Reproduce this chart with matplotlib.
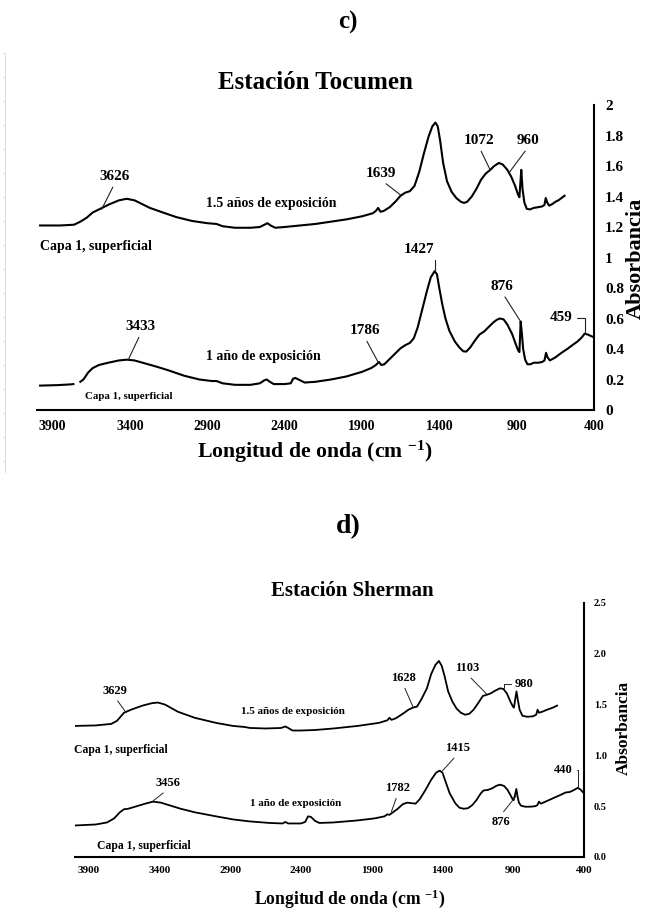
import numpy as np
import matplotlib
matplotlib.use("Agg")
import matplotlib.pyplot as plt
from matplotlib.lines import Line2D

plt.rcParams["font.family"] = ["Liberation Serif", "DejaVu Serif"]
plt.rcParams["font.weight"] = "bold"
plt.rcParams["mathtext.fontset"] = "custom"
plt.rcParams["mathtext.rm"] = "Liberation Serif:bold"
plt.rcParams["mathtext.bf"] = "Liberation Serif:bold"
plt.rcParams["mathtext.default"] = "rm"
plt.rcParams["axes.unicode_minus"] = False

NAN = np.nan

# ---- c) Estación Tocumen ----
c_w15 = [3980, 3850, 3760, 3720, 3680, 3640, 3590, 3530, 3470, 3420, 3370, 3320, 3270, 3200,
         3100, 3000, 2900, 2840, 2800, 2720, 2620, 2560, 2530, 2510, 2490, 2460, 2400, 2300,
         2200, 2100, 2000, 1900, 1830, 1810, 1795, 1780, 1760, 1720, 1680, 1650, 1620, 1590,
         1560, 1530, 1500, 1470, 1445, 1425, 1410, 1395, 1375, 1350, 1320, 1290, 1260, 1240,
         1220, 1190, 1160, 1130, 1100, 1070, 1045, 1015, 990, 960, 935, 910, 890, 882, 875,
         870, 862, 850, 835, 815, 790, 760, 735, 720, 712, 702, 690, 670, 650, 630, 610, 590]
c_a15 = [1.21, 1.21, 1.215, 1.235, 1.26, 1.295, 1.32, 1.35, 1.375, 1.385, 1.375, 1.35, 1.325, 1.30,
         1.265, 1.24, 1.225, 1.22, 1.205, 1.195, 1.195, 1.20, 1.215, 1.225, 1.21, 1.195, 1.20, 1.21,
         1.22, 1.235, 1.25, 1.27, 1.29, 1.305, 1.325, 1.30, 1.305, 1.33, 1.37, 1.405, 1.425, 1.435,
         1.47, 1.56, 1.68, 1.79, 1.86, 1.885, 1.86, 1.77, 1.62, 1.50, 1.43, 1.39, 1.365, 1.358,
         1.365, 1.40, 1.45, 1.51, 1.55, 1.575, 1.60, 1.62, 1.61, 1.575, 1.53, 1.47, 1.41, 1.395, 1.50,
         1.575, 1.45, 1.36, 1.32, 1.315, 1.325, 1.33, 1.335, 1.345, 1.39, 1.36, 1.34, 1.35, 1.365,
         1.375, 1.39, 1.405]

c_w1 = [3980, 3870, 3780, 3765, 3745, 3720, 3700, 3670, 3640, 3600, 3540, 3470, 3420, 3370, 3300,
        3230, 3150, 3050, 2950, 2870, 2840, 2800, 2720, 2620, 2560, 2530, 2515, 2495, 2470, 2400,
        2360, 2345, 2330, 2300, 2270, 2200, 2100, 2000, 1900, 1840, 1810, 1790, 1775, 1755, 1720,
        1680, 1650, 1620, 1590, 1565, 1540, 1510, 1480, 1455, 1430, 1415, 1400, 1380, 1360, 1335,
        1300, 1270, 1245, 1225, 1200, 1170, 1140, 1110, 1080, 1050, 1030, 1010, 985, 960, 930,
        905, 890, 882, 874, 866, 858, 845, 830, 810, 790, 760, 735, 720, 710, 700, 685, 650, 610,
        573, 540, 508, 480, 461, 440, 420, 400]
c_a1 = [0.16, 0.163, 0.168, 0.17, NAN, 0.185, 0.20, 0.245, 0.275, 0.295, 0.31, 0.325, 0.33, 0.325, 0.305,
        0.285, 0.26, 0.225, 0.20, 0.19, 0.19, 0.175, 0.165, 0.165, 0.175, 0.195, 0.20, 0.185, 0.17, 0.17,
        0.175, 0.205, 0.21, 0.195, 0.18, 0.185, 0.20, 0.22, 0.25, 0.275, 0.295, 0.315, 0.295, 0.30, 0.335,
        0.375, 0.405, 0.425, 0.44, 0.47, 0.54, 0.66, 0.78, 0.87, 0.91, 0.89, 0.80, 0.69, 0.60, 0.52,
        0.45, 0.41, 0.385, 0.383, 0.41, 0.455, 0.495, 0.515, 0.545, 0.575, 0.59, 0.60, 0.595, 0.56, 0.50,
        0.43, 0.39, 0.38, 0.58, 0.50, 0.40, 0.33, 0.30, 0.30, 0.31, 0.31, 0.315, 0.325, 0.375, 0.345,
        0.325, 0.345, 0.375, 0.40, 0.425, 0.448, 0.475, 0.50, 0.495, 0.485, 0.477]

c_ticks_x = [3900, 3400, 2900, 2400, 1900, 1400, 900, 400]
c_ticks_y = [0, 0.2, 0.4, 0.6, 0.8, 1, 1.2, 1.4, 1.6, 1.8, 2]
c_ticklabels_y = ["0", "0.2", "0.4", "0.6", "0.8", "1", "1.2", "1.4", "1.6", "1.8", "2"]

# (etiqueta, punto en la curva, posición del texto, tipo: "d" diagonal / "b" escuadra / "u" texto abajo)
c_ann = [
    ("3626", (3582, 1.316), (3497, 1.53), "d"),
    ("1639", (1650, 1.41), (1775, 1.55), "d"),
    ("1072", (1071, 1.574), (1142, 1.766), "d"),
    ("960", (949, 1.556), (826, 1.766), "d"),
    ("1427", (1429, 0.913), (1530, 1.054), "b"),
    ("876", (878, 0.586), (992, 0.81), "d"),
    ("459", (461, 0.498), (611, 0.605), "b"),
    ("3433", (3409, 0.332), (3329, 0.546), "d"),
    ("1786", (1791, 0.306), (1882, 0.52), "d"),
]

# ---- d) Estación Sherman ----
d_w15 = [4000, 3850, 3740, 3700, 3650, 3600, 3520, 3450, 3410, 3360, 3270, 3150, 3000, 2880, 2800,
         2760, 2650, 2540, 2510, 2490, 2460, 2400, 2300, 2170, 2000, 1850, 1790, 1775, 1760, 1730,
         1680, 1640, 1610, 1580, 1550, 1510, 1480, 1450, 1425, 1405, 1385, 1360, 1330, 1300, 1270,
         1240, 1210, 1180, 1145, 1115, 1090, 1060, 1030, 995, 970, 945, 920, 902, 895, 885, 877,
         868, 855, 835, 800, 760, 738, 728, 718, 695, 660, 620, 590]
d_a15 = [1.29, 1.295, 1.31, 1.34, 1.42, 1.45, 1.49, 1.515, 1.52, 1.50, 1.43, 1.37, 1.32, 1.29, 1.28,
         1.27, 1.265, 1.27, 1.285, 1.27, 1.245, 1.245, 1.25, 1.265, 1.29, 1.32, 1.345, 1.37, 1.35, 1.365,
         1.41, 1.45, 1.47, 1.48, 1.55, 1.66, 1.80, 1.89, 1.93, 1.88, 1.78, 1.63, 1.53, 1.46, 1.42,
         1.40, 1.41, 1.45, 1.52, 1.585, 1.595, 1.61, 1.635, 1.66, 1.655, 1.61, 1.53, 1.48, 1.47, 1.56, 1.63,
         1.55, 1.45, 1.39, 1.38, 1.385, 1.40, 1.45, 1.42, 1.43, 1.45, 1.47, 1.49]

d_w1 = [4000, 3850, 3770, 3720, 3680, 3650, 3620, 3560, 3500, 3445, 3390, 3320, 3250, 3150, 3000,
        2880, 2760, 2620, 2530, 2510, 2490, 2400, 2370, 2350, 2330, 2300, 2270, 2170, 2000, 1880,
        1810, 1790, 1775, 1760, 1720, 1680, 1650, 1620, 1590, 1560, 1520, 1480, 1445, 1420, 1400,
        1380, 1350, 1310, 1280, 1250, 1220, 1190, 1160, 1130, 1110, 1080, 1050, 1020, 995, 965, 940,
        920, 905, 897, 886, 878, 870, 860, 845, 815, 780, 745, 730, 718, 705, 680, 640, 600, 560,
        530, 500, 470, 445, 425, 400]
d_a1 = [0.31, 0.32, 0.34, 0.38, 0.44, 0.47, 0.475, 0.50, 0.525, 0.545, 0.535, 0.505, 0.475, 0.44, 0.40,
        0.37, 0.35, 0.335, 0.33, 0.345, 0.33, 0.33, 0.345, 0.40, 0.395, 0.355, 0.335, 0.34, 0.36, 0.38,
        0.40, 0.42, 0.415, 0.43, 0.47, 0.52, 0.535, 0.53, 0.525, 0.57, 0.66, 0.76, 0.83, 0.85, 0.83,
        0.75, 0.63, 0.53, 0.485, 0.475, 0.48, 0.51, 0.56, 0.625, 0.655, 0.66, 0.675, 0.70, 0.712, 0.70, 0.66,
        0.61, 0.57, 0.56, 0.62, 0.67, 0.60, 0.535, 0.505, 0.495, 0.495, 0.50, 0.51, 0.545, 0.525, 0.54,
        0.565, 0.59, 0.615, 0.635, 0.64, 0.66, 0.68, 0.665, 0.625]

d_ticks_x = [3900, 3400, 2900, 2400, 1900, 1400, 900, 400]
d_ticks_y = [0, 0.5, 1.0, 1.5, 2.0, 2.5]
d_ticklabels_y = ["0.0", "0.5", "1.0", "1.5", "2.0", "2.5"]

d_ann = [
    ("3629", (3635, 1.42), (3715, 1.634), "d"),
    ("1628", (1607, 1.473), (1678, 1.759), "d"),
    ("1103", (1088, 1.604), (1224, 1.857), "d"),
    ("980", (962, 1.66), (822, 1.70), "b"),
    ("1415", (1400, 0.848), (1294, 1.07), "d"),
    ("440", (442, 0.68), (548, 0.856), "b"),
    ("876", (880, 0.60), (990, 0.348), "u"),
    ("3456", (3443, 0.554), (3340, 0.725), "d"),
    ("1782", (1761, 0.446), (1717, 0.676), "d"),
]

W, H = 649, 909
fig = plt.figure(figsize=(W / 100, H / 100), dpi=100)


def add_ax(left, right, top, bottom):
    return fig.add_axes([left / W, 1 - bottom / H, (right - left) / W, (bottom - top) / H])


def style_axes(ax, xt, yt, ytl, ylim, fs_x, fs_y, pad_x, pad_y, lw_sp):
    ax.set_xlim(4000, 400)
    ax.set_ylim(*ylim)
    for s in ["top", "left"]:
        ax.spines[s].set_visible(False)
    for s in ["right", "bottom"]:
        ax.spines[s].set_linewidth(lw_sp)
    ax.yaxis.tick_right()
    ax.set_xticks(xt)
    ax.set_xticklabels([str(v) for v in xt], fontsize=fs_x, fontweight="bold")
    ax.set_yticks(yt)
    ax.set_yticklabels(ytl, fontsize=fs_y, fontweight="bold")
    ax.tick_params(axis="x", length=0, pad=pad_x)
    ax.tick_params(axis="y", length=0, pad=pad_y)
    ax.patch.set_alpha(0)


def draw_ann(ax, items, fs, lw):
    for lab, pt, tp, kind in items:
        if kind == "b":
            relpos = (1, 0.5) if tp[0] > pt[0] else (0, 0.5)
            cs = "angle,angleA=0,angleB=90,rad=0"
        elif kind == "u":
            relpos, cs = (0.5, 1), "arc3"
        else:
            relpos, cs = (0.5, 0), "arc3"
        ax.annotate(lab, xy=pt, xytext=tp, ha="center", va="center",
                    fontsize=fs, fontweight="bold",
                    arrowprops=dict(arrowstyle="-", lw=lw, color="#222222",
                                    connectionstyle=cs, relpos=relpos,
                                    shrinkA=1, shrinkB=0))


# =====================================================================
# c) Estación Tocumen
# =====================================================================
axc = add_ax(37, 594, 105, 410)
axc.plot(c_w15, c_a15, color="black", lw=1.5, solid_joinstyle="round")
axc.plot(c_w1, c_a1, color="black", lw=1.5, solid_joinstyle="round")
style_axes(axc, c_ticks_x, c_ticks_y, c_ticklabels_y, (0, 2), 10, 11, 7.5, 8, 1.5)
draw_ann(axc, c_ann, 11, 0.8)
axc.text(2489, 1.355, "1.5 años de exposición", fontsize=10, fontweight="bold", ha="center", va="center")
axc.text(2537, 0.354, "1 año de exposición", fontsize=10, fontweight="bold", ha="center", va="center")
axc.text(3983, 1.07, "Capa 1, superficial", fontsize=10, fontweight="bold", ha="left", va="center")
axc.text(3689, 0.087, "Capa 1, superficial", fontsize=7.8, fontweight="bold", ha="left", va="center")
axc.text(0.5, 1.075, "Estación Tocumen", transform=axc.transAxes, fontsize=18,
         fontweight="bold", ha="center", va="center")
axc.text(0.499, -0.138, "Longitud de onda (cm $^{-1}$)", transform=axc.transAxes,
         fontsize=15.7, fontweight="bold", ha="center", va="center")
fig.text(636 / W, 1 - 258 / H, "Absorbancia", rotation=90, fontsize=16,
         fontweight="bold", ha="center", va="center")
fig.text(348 / W, 1 - 22 / H, "c)", fontsize=18, fontweight="bold", ha="center", va="center")

# regla gris tenue del borde izquierdo
fig.add_artist(Line2D([5 / W, 5 / W], [1 - 53 / H, 1 - 472 / H], transform=fig.transFigure,
                      color="#dcdcdc", lw=0.8))
for yy in range(53, 472, 24):
    fig.add_artist(Line2D([3 / W, 5 / W], [1 - yy / H, 1 - yy / H], transform=fig.transFigure,
                          color="#dcdcdc", lw=0.6))

# =====================================================================
# d) Estación Sherman
# =====================================================================
axd = add_ax(74.5, 584, 603, 857)
axd.plot(d_w15, d_a15, color="black", lw=1.3, solid_joinstyle="round")
axd.plot(d_w1, d_a1, color="black", lw=1.3, solid_joinstyle="round")
style_axes(axd, d_ticks_x, d_ticks_y, d_ticklabels_y, (0, 2.5), 8, 7.5, 6.5, 7, 1.5)
draw_ann(axd, d_ann, 9, 0.7)
axd.text(2455, 1.43, "1.5 años de exposición", fontsize=8, fontweight="bold", ha="center", va="center")
axd.text(2440, 0.528, "1 año de exposición", fontsize=8, fontweight="bold", ha="center", va="center")
axd.text(4000, 1.053, "Capa 1, superficial", fontsize=8.4, fontweight="bold", ha="left", va="center")
axd.text(3842, 0.108, "Capa 1, superficial", fontsize=8.4, fontweight="bold", ha="left", va="center")
axd.text(0.545, 1.047, "Estación Sherman", transform=axd.transAxes, fontsize=15,
         fontweight="bold", ha="center", va="center")
axd.text(0.541, -0.165, "Longitud de onda (cm $^{-1}$)", transform=axd.transAxes,
         fontsize=12.7, fontweight="bold", ha="center", va="center")
fig.text(624 / W, 1 - 728 / H, "Absorbancia", rotation=90, fontsize=12.5,
         fontweight="bold", ha="center", va="center")
fig.text(348 / W, 1 - 527 / H, "d)", fontsize=20, fontweight="bold", ha="center", va="center")

fig.savefig("out.png", dpi=100)
